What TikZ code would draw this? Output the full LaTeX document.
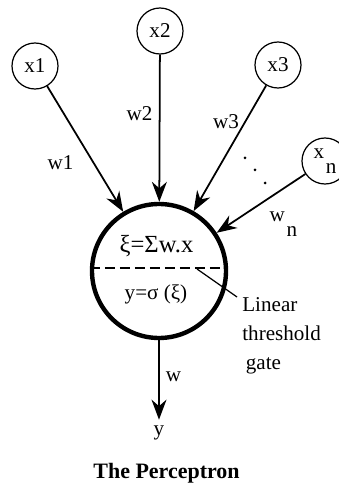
\documentclass[tikz,border=0pt]{standalone}
\usepackage{fontspec}
\setmainfont{Liberation Serif}
\usetikzlibrary{arrows.meta}

\begin{document}
\begin{tikzpicture}[
    >={Stealth[length=0.4cm,width=0.3cm]},
    txt/.style={font=\fontsize{12}{16.5}\selectfont},
    inp/.style={draw, circle, line width=0.7pt, minimum size=0.92cm, inner sep=0pt, txt},
    link/.style={line width=1pt, ->}]
\useasboundingbox (0,0) rectangle (6.78,9.72);
% inputs
\node[inp] (x1) at (0.70,8.40) {x1};
\node[inp] (x2) at (3.20,9.10) {x2};
\node[inp] (x3) at (5.56,8.42) {x3};
\node[inp] (xn) at (6.50,6.50) {x\kern1pt\raisebox{-8.5pt}{n}};
% the gate
\node[draw, circle, line width=2.5pt, minimum size=2.68cm] (gate) at (3.18,4.30) {};
\draw[line width=1.2pt, dash pattern=on 0.2cm off 0.1cm]
    ([yshift=0.06cm]gate.west)--([yshift=0.06cm]gate.east);
\node[font=\fontsize{14}{14}\selectfont] (sum) at (3.13,4.79) {ξ=Σw.x};
\node[txt] (act) at (3.12,3.84) {y=σ (ξ)};
\coordinate (lead) at (3.94,4.34);
\node[txt, align=left, anchor=north west, inner sep=0.1cm] (lab) at (4.74,3.88)
    {Linear\\threshold\\\kern2pt gate};
\draw[line width=0.7pt] (lead)--([yshift=-0.1cm]lab.north west);
% connections
\draw[link] (x1)--(gate);
\draw[link] (x2)--(gate);
\draw[link] (x3)--(gate);
\draw[link] (xn)--(gate);
\node[txt] (y) at (3.18,1.06) {y};
\draw[link] (gate)--(y);
\foreach \p in {(4.90,6.56),(5.10,6.32),(5.30,6.06)}
    \fill \p circle (0.03);
% weights
\node[txt] (w1) at (1.21,6.47) {w1};
\node[txt] (w2) at (2.79,7.45) {w2};
\node[txt] (w3) at (4.52,7.29) {w3};
\node[txt] (wn) at (5.67,5.23) {w\kern1pt\raisebox{-8.5pt}{n}};
\node[txt] (w) at (3.47,2.18) {w};
\node[font=\fontsize{12.5}{12.5}\selectfont\bfseries] (title) at (3.33,0.26) {The Perceptron};
\end{tikzpicture}
\end{document}
